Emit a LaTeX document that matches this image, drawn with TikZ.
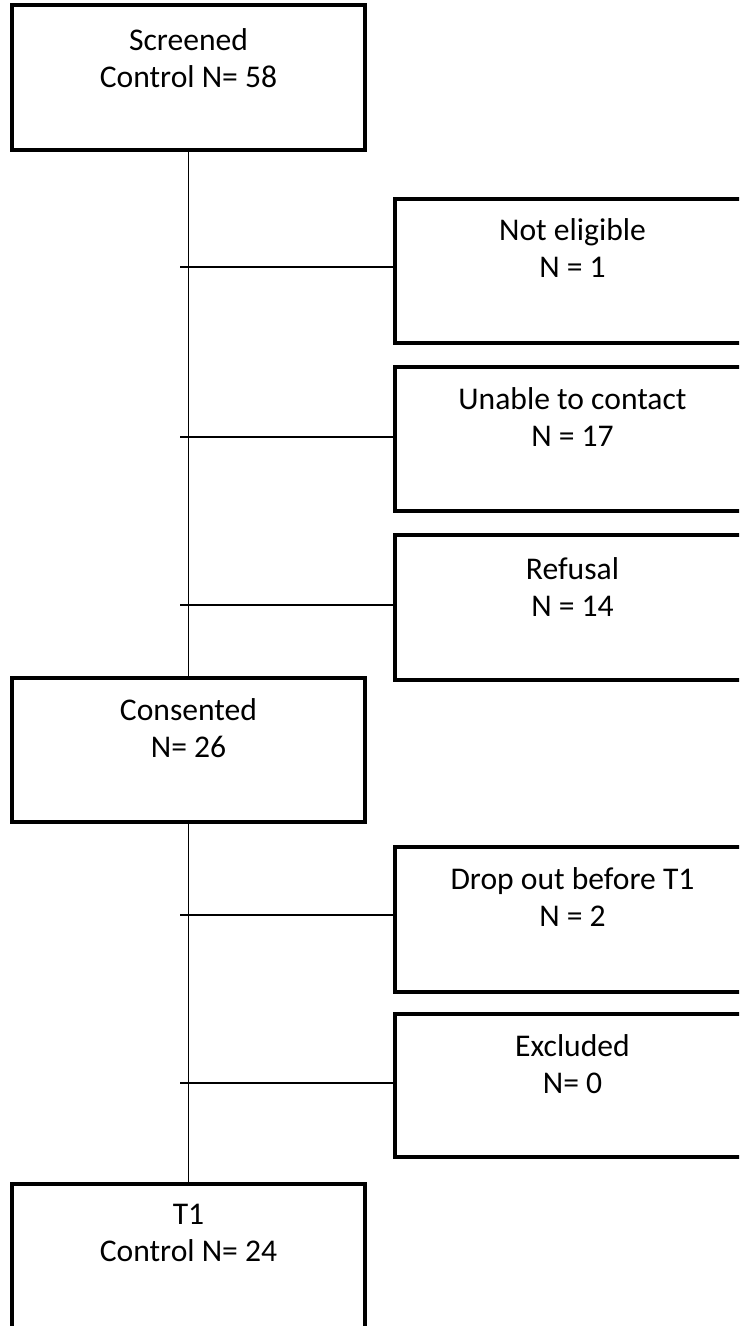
\documentclass[tikz,border=0pt]{standalone}
\usepackage{fontspec}
\setmainfont{Carlito}
\begin{document}
\begin{tikzpicture}[x=0.75pt,y=-0.75pt,
  box/.style={draw=black,line width=2.3pt,minimum width=353*0.75pt,minimum height=145*0.75pt,inner sep=0pt},
  rbox/.style={draw=black,line width=2.3pt,minimum width=355*0.75pt,minimum height=144*0.75pt,inner sep=0pt},
  txt/.style={align=center,inner sep=0pt,anchor=base,font=\fontsize{23.7pt}{27.75pt}\selectfont},
  conn/.style={draw=black,line width=0.9pt}]
\clip (0,0) rectangle (739,1326);
\fill[white] (0,0) rectangle (739,1326);
% main column
\node[box] (scr) at (188.5,77.5) {};
\node[box,minimum height=144*0.75pt] (con) at (188.5,750) {};
\node[box] (t1) at (188.5,1256.5) {};
% side boxes
\node[rbox] (ne) at (572.5,271) {};
\node[rbox] (utc) at (572.5,439) {};
\node[rbox,minimum height=145*0.75pt] (ref) at (572.5,607.5) {};
\node[rbox,minimum height=145*0.75pt] (dro) at (572.5,919.5) {};
\node[rbox,minimum height=143*0.75pt] (exc) at (572.5,1085.5) {};
% texts (base anchor = baseline of the last line)
\node[txt] (scrt) at ([yshift=-84*0.75pt]scr.north) {Screened\\Control N= 58};
\node[txt] (cont) at ([yshift=-81*0.75pt]con.north) {Consented\\N= 26};
\node[txt] (t1t) at ([yshift=-79*0.75pt]t1.north) {T1\\Control N= 24};
\node[txt] (net) at ([yshift=-80*0.75pt]ne.north) {Not eligible\\N = 1};
\node[txt] (utct) at ([yshift=-81*0.75pt]utc.north) {Unable to contact\\N = 17};
\node[txt] (reft) at ([yshift=-83*0.75pt]ref.north) {Refusal\\N = 14};
\node[txt] (drot) at ([yshift=-81*0.75pt]dro.north) {Drop out before T1\\N = 2};
\node[txt] (exct) at ([yshift=-81*0.75pt]exc.north) {Excluded\\N= 0};
% connectors
\draw[conn] (scr.south) -- (con.north);
\draw[conn] (con.south) -- (t1.north);
\coordinate (b1) at (180,267);
\coordinate (b2) at (180,437);
\coordinate (b3) at (180,605);
\coordinate (b4) at (180,915);
\coordinate (b5) at (180,1083);
\draw[conn] (b1) -- (b1 -| ne.west);
\draw[conn] (b2) -- (b2 -| utc.west);
\draw[conn] (b3) -- (b3 -| ref.west);
\draw[conn] (b4) -- (b4 -| dro.west);
\draw[conn] (b5) -- (b5 -| exc.west);
\end{tikzpicture}
\end{document}
